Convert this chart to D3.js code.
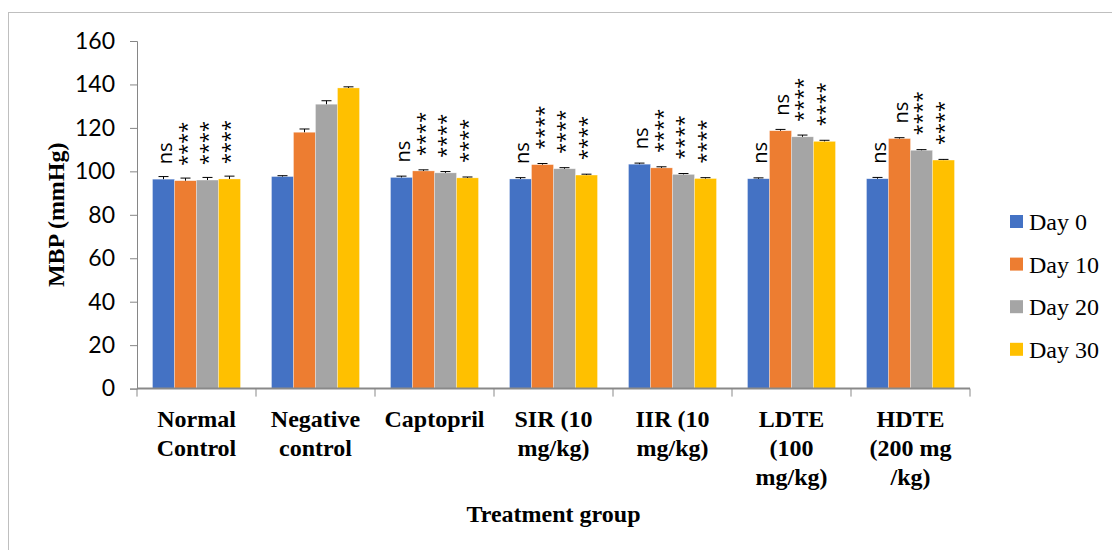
<!DOCTYPE html>
<html>
<head>
<meta charset="utf-8" />
<title>MBP</title>
<script src="https://cdn.jsdelivr.net/npm/d3@7"></script>
<style>
  body { margin: 0; background: #fff; }
  svg { display: block; }
</style>
</head>
<body>
<svg width="1112" height="550"></svg>
<script>
// data
var groups = ["Normal Control", "Negative control", "Captopril", "SIR (10 mg/kg)", "IIR (10 mg/kg)", "LDTE (100 mg/kg)", "HDTE (200 mg /kg)"];
var groupLines = [["Normal", "Control"], ["Negative", "control"], ["Captopril"], ["SIR (10", "mg/kg)"], ["IIR (10", "mg/kg)"], ["LDTE", "(100", "mg/kg)"], ["HDTE", "(200 mg", "/kg)"]];
var seriesNames = ["Day 0", "Day 10", "Day 20", "Day 30"];
var day0 = [96.4, 97.6, 97.2, 96.5, 103.3, 96.6, 96.6];
var day10 = [95.7, 118.0, 100.2, 103.1, 101.6, 118.7, 115.1];
var day20 = [96.0, 130.9, 99.3, 101.2, 98.6, 115.9, 109.7];
var day30 = [96.5, 138.4, 97.0, 98.3, 96.7, 113.8, 105.2];
var err0 = [1.2, 0.4, 0.6, 0.6, 0.5, 0.4, 0.6];
var err10 = [1.2, 1.5, 0.5, 0.5, 0.5, 0.6, 0.4];
var err20 = [1.2, 1.6, 0.6, 0.5, 0.4, 0.8, 0.3];
var err30 = [1.3, 0.5, 0.4, 0.4, 0.4, 0.5, 0.3];
var sig0 = ["ns", "", "ns", "ns", "ns", "ns", "ns"];
var sig10 = ["****", "", "****", "****", "****", "ns", "ns"];
var sig20 = ["****", "", "****", "****", "****", "****", "****"];
var sig30 = ["****", "", "****", "****", "****", "****", "****"];
var yTicks = [0, 20, 40, 60, 80, 100, 120, 140, 160];
var colors = ["#4472C4", "#ED7D31", "#A5A5A5", "#FFC000"];

var values = [day0, day10, day20, day30];
var errs = [err0, err10, err20, err30];
var sigs = [sig0, sig10, sig20, sig30];

var svg = d3.select("svg");
var plotL = 137, plotR = 970, plotT = 41, plotB = 388.6;

// chart frame
svg.append("rect")
  .attr("x", 8.5).attr("y", 12.5)
  .attr("width", 1200).attr("height", 700)
  .attr("fill", "none").attr("stroke", "#BFBFBF").attr("stroke-width", 1);

var x = d3.scaleBand().domain(groups).range([plotL, plotR]).padding(0);
var xs = d3.scaleBand().domain(seriesNames).range([0, x.bandwidth()]).paddingInner(0).paddingOuter(0.705);
var y = d3.scaleLinear().domain([0, 160]).range([plotB, plotT]);

// y axis
var yAxis = svg.append("g")
  .attr("transform", "translate(" + plotL + ",0)")
  .call(d3.axisLeft(y).tickValues(yTicks).tickSize(7).tickPadding(15));
yAxis.select(".domain").attr("stroke", "#868686");
yAxis.selectAll(".tick line").attr("stroke", "#868686");
yAxis.selectAll(".tick text")
  .attr("font-family", "Lato, 'Open Sans', sans-serif")
  .attr("font-size", "23px")
  .attr("fill", "#000");

// bars
var rows = [];
groups.forEach(function(g, i) {
  seriesNames.forEach(function(s, j) {
    rows.push({ g: g, s: s, j: j, v: values[j][i], e: errs[j][i], sig: sigs[j][i] });
  });
});

var bar = svg.append("g").selectAll("g.bar")
  .data(rows)
  .enter().append("g")
  .attr("class", "bar")
  .attr("transform", function(d) { return "translate(" + (x(d.g) + xs(d.s)) + ",0)"; });

bar.append("rect")
  .attr("x", 0)
  .attr("y", function(d) { return y(d.v); })
  .attr("width", xs.bandwidth())
  .attr("height", function(d) { return y(0) - y(d.v); })
  .attr("fill", function(d) { return colors[d.j]; })
  .attr("stroke", "#fff")
  .attr("stroke-opacity", 0.5)
  .attr("stroke-width", 0.6);

// error bars
var w = xs.bandwidth();
bar.append("path")
  .attr("d", function(d) {
    var t = y(d.v + d.e), b = y(d.v);
    return "M" + (w / 2) + "," + b + "V" + t + "M" + (w / 2 - 5) + "," + t + "H" + (w / 2 + 5);
  })
  .attr("stroke", "#000")
  .attr("stroke-width", 1)
  .attr("fill", "none");

// significance labels
bar.filter(function(d) { return d.sig; })
  .append("text")
  .attr("transform", function(d) { return "translate(" + (w / 2 + 8) + "," + (y(d.v) - 15) + ") rotate(-90)"; })
  .attr("font-family", "'Open Sans', sans-serif")
  .attr("font-size", "20px")
  .attr("fill", "#000")
  .text(function(d) { return d.sig; });

// x axis
svg.append("line")
  .attr("x1", plotL).attr("x2", plotR)
  .attr("y1", y(0)).attr("y2", y(0))
  .attr("stroke", "#898989").attr("stroke-width", 2);

var bounds = groups.map(function(g) { return x(g); }).concat([x(groups[groups.length - 1]) + x.bandwidth()]);
svg.append("g").selectAll("line")
  .data(bounds)
  .enter().append("line")
  .attr("x1", function(d) { return d; }).attr("x2", function(d) { return d; })
  .attr("y1", y(0)).attr("y2", y(0) + 8)
  .attr("stroke", "#898989").attr("stroke-width", 1);

var xl = svg.append("g").selectAll("text")
  .data(groups)
  .enter().append("text")
  .attr("x", function(d) { return x(d) + x.bandwidth() / 2; })
  .attr("y", 427)
  .attr("text-anchor", "middle")
  .attr("font-family", "'Liberation Serif', 'Times New Roman', serif")
  .attr("font-weight", "bold")
  .attr("font-size", "24px")
  .attr("fill", "#000");

xl.selectAll("tspan")
  .data(function(d, i) { return groupLines[i]; })
  .enter().append("tspan")
  .attr("x", function() { var g = d3.select(this.parentNode).datum(); return x(g) + x.bandwidth() / 2; })
  .attr("dy", function(d, i) { return i === 0 ? 0 : 29; })
  .text(function(d) { return d; });

// axis titles
svg.append("text")
  .attr("x", (plotL + plotR) / 2)
  .attr("y", 522)
  .attr("text-anchor", "middle")
  .attr("font-family", "'Liberation Serif', 'Times New Roman', serif")
  .attr("font-weight", "bold")
  .attr("font-size", "24px")
  .text("Treatment group");

svg.append("text")
  .attr("transform", "translate(64," + ((plotT + plotB) / 2) + ") rotate(-90)")
  .attr("text-anchor", "middle")
  .attr("font-family", "'Liberation Serif', 'Times New Roman', serif")
  .attr("font-weight", "bold")
  .attr("font-size", "24px")
  .text("MBP (mmHg)");

// legend
var legend = svg.append("g").selectAll("g")
  .data(seriesNames)
  .enter().append("g")
  .attr("transform", function(d, i) { return "translate(1010," + (215 + i * 42.6) + ")"; });

legend.append("rect")
  .attr("width", 13).attr("height", 13)
  .attr("fill", function(d, i) { return colors[i]; });

legend.append("text")
  .attr("x", 19)
  .attr("y", 15)
  .attr("font-family", "'Liberation Serif', 'Times New Roman', serif")
  .attr("font-size", "24px")
  .attr("fill", "#000")
  .text(function(d) { return d; });
</script>
</body>
</html>
